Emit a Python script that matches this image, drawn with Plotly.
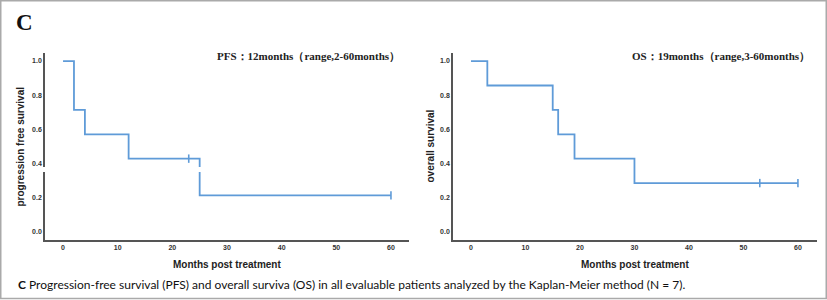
import plotly.graph_objects as go

# ---- data ----
pfs_time = [0, 2, 4, 12, 25, 60]
pfs_surv = [1.0, 0.714, 0.571, 0.429, 0.214, 0.214]
pfs_cens_time = [23, 60]
pfs_cens_surv = [0.429, 0.214]

os_time = [0, 3, 15, 16, 19, 30, 60]
os_surv = [1.0, 0.857, 0.714, 0.571, 0.429, 0.286, 0.286]
os_cens_time = [53, 60]
os_cens_surv = [0.286, 0.286]

x_ticks = [0, 10, 20, 30, 40, 50, 60]
y_ticks = [0.0, 0.2, 0.4, 0.6, 0.8, 1.0]
y_ticklabels = ["0.0", "0.2", "0.4", "0.6", "0.8", "1.0"]

W, H = 827, 300
LINE = "#5F9BD8"

fig = go.Figure()
fig.add_trace(go.Scatter(x=pfs_time, y=pfs_surv, mode="lines", line=dict(shape="hv", color=LINE, width=1.8),
                         xaxis="x", yaxis="y", showlegend=False, hoverinfo="skip"))
fig.add_trace(go.Scatter(x=pfs_cens_time, y=pfs_cens_surv, mode="markers",
                         marker=dict(symbol="line-ns", size=6, line=dict(color=LINE, width=1.6)),
                         xaxis="x", yaxis="y", showlegend=False))
fig.add_trace(go.Scatter(x=os_time, y=os_surv, mode="lines", line=dict(shape="hv", color=LINE, width=1.8),
                         xaxis="x2", yaxis="y2", showlegend=False, hoverinfo="skip"))
fig.add_trace(go.Scatter(x=os_cens_time, y=os_cens_surv, mode="markers",
                         marker=dict(symbol="line-ns", size=6, line=dict(color=LINE, width=1.6)),
                         xaxis="x2", yaxis="y2", showlegend=False))

def px(x):
    return x / W

def py(y):
    return 1 - y / H

tickfont = dict(family="Liberation Sans, Arial", size=7, color="#333333", weight="bold")
axcommon = dict(showgrid=False, zeroline=False, showline=True, linecolor="#555555", linewidth=1.5,
                ticks="", tickfont=tickfont)

fig.update_layout(
    width=W, height=H,
    margin=dict(l=0, r=0, t=0, b=0),
    paper_bgcolor="white", plot_bgcolor="white",
    xaxis=dict(domain=[px(45), px(409)], range=[-3.3, 63.3], tickvals=x_ticks, anchor="y", **axcommon),
    yaxis=dict(domain=[py(240), py(53)], range=[-0.047, 1.047], tickvals=y_ticks, ticktext=y_ticklabels,
               anchor="x", **axcommon),
    xaxis2=dict(domain=[px(453), px(817)], range=[-3.3, 63.5], tickvals=x_ticks, anchor="y2", **axcommon),
    yaxis2=dict(domain=[py(240), py(53)], range=[-0.047, 1.047], tickvals=y_ticks, ticktext=y_ticklabels,
                anchor="x2", **axcommon),
)

def A(text, x, y, size, family, color="#222222", angle=0, xanchor="center"):
    return dict(text=text, x=px(x), y=py(y), xref="paper", yref="paper", showarrow=False,
                xanchor=xanchor, yanchor="middle", textangle=angle,
                font=dict(family=family, size=size, color=color))

SERIF = "Liberation Serif, Times New Roman"
SANS = "Liberation Sans, Arial"
ann = [
    A("<b>C</b>", 24, 22.5, 23, SERIF, "#111111"),
    A("<b>PFS：12months（range,2-60months）</b>", 308, 56.5, 11, SERIF),
    A("<b>OS：19months（range,3-60months）</b>", 721, 56.5, 11, SERIF),
    A("<b>progression free survival</b>", 20, 146.5, 10, SANS, angle=-90),
    A("<b>overall survival</b>", 430, 146.5, 10, SANS, angle=-90),
    A("<b>Months post treatment</b>", 227, 264, 10, SANS),
    A("<b>Months post treatment</b>", 635, 264, 10, SANS),
    A("<b>C</b> Progression-free survival (PFS) and overall surviva (OS) in all evaluable patients analyzed by the Kaplan-Meier method (N = 7).",
      16, 284, 12, "Lato", "#111111", xanchor="left"),
]
fig.update_layout(annotations=ann)

shapes = [
    # outer frame
    dict(type="rect", xref="paper", yref="paper", x0=px(0.75), x1=px(826.25), y0=py(298.5), y1=py(0.75),
         line=dict(color="#AAAAAA", width=1.5), fillcolor="rgba(0,0,0,0)", layer="above"),
    # scan artefact gap on left panel
    dict(type="rect", xref="paper", yref="paper", x0=px(40), x1=px(260), y0=py(172), y1=py(167),
         line=dict(width=0), fillcolor="white", layer="above"),
]
fig.update_layout(shapes=shapes)

fig.write_html("out.html")
